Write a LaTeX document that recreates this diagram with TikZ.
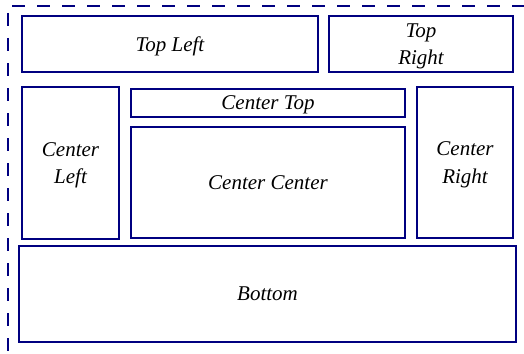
\documentclass[tikz,border=0pt]{standalone}
\usepackage{fontspec}
\setmainfont{Liberation Serif}
\definecolor{boxblue}{RGB}{0,0,128}
\begin{document}
\begin{tikzpicture}[x=1pt,y=-1pt,
  panel/.style={draw=boxblue,line width=1.1pt,fill=white,inner sep=0pt,align=center,
    text depth=0pt,font=\fontsize{21}{27.5}\selectfont\itshape},
  frameline/.style={draw=boxblue,line width=1.2pt,dash pattern=on 13pt off 12pt}]
\useasboundingbox (0,0) rectangle (524,353);
\coordinate (c0) at (12,6);
\coordinate (c1) at (524,6);
\coordinate (c2) at (8,13);
\coordinate (c3) at (8,353);
\draw[frameline] (c0) -- (c1);
\draw[frameline] (c2) -- (c3);
\node[panel,minimum width=296pt,minimum height=56pt] (tl) at (170,44) {Top Left};
\node[panel,minimum width=184pt,minimum height=56pt] (tr) at (421,44) {Top\\Right};
\node[panel,minimum width=97pt,minimum height=152pt] (cl) at (70.5,163) {Center\\Left};
\node[panel,minimum width=274pt,minimum height=28pt] (ct) at (268,103) {Center Top};
\node[panel,minimum width=274pt,minimum height=111pt] (cc) at (268,182.5) {Center Center};
\node[panel,minimum width=96pt,minimum height=151pt] (cr) at (465,162.5) {Center\\Right};
\node[panel,minimum width=497pt,minimum height=96pt] (bt) at (267.5,294) {Bottom};
\end{tikzpicture}
\end{document}
